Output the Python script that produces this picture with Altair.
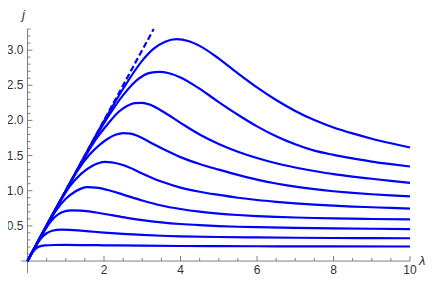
import altair as alt
import pandas as pd

# ---- data ----
lam1 = [0, 1, 2, 2.5, 3.0, 3.3, 3.6, 3.9, 4.2, 4.5, 5.0, 5.5, 6.0, 6.5, 7.0, 7.5, 8.0, 8.5, 9.0, 9.5, 10]
j1 = [0, 1, 1.99, 2.45, 2.85, 3.02, 3.12, 3.155, 3.13, 3.06, 2.88, 2.67, 2.47, 2.29, 2.135, 2.005, 1.9, 1.815, 1.74, 1.675, 1.615]

lam2 = [0, 1, 1.5, 2.0, 2.5, 2.9, 3.2, 3.45, 3.7, 4.0, 4.5, 5.0, 5.5, 6.0, 6.5, 7.0, 7.5, 8.0, 8.5, 9.0, 9.5, 10]
j2 = [0, 1, 1.49, 1.96, 2.36, 2.59, 2.675, 2.69, 2.67, 2.61, 2.45, 2.26, 2.08, 1.915, 1.775, 1.66, 1.57, 1.51, 1.46, 1.415, 1.378, 1.345]

lam3 = [0, 1, 1.5, 1.8, 2.1, 2.4, 2.6, 2.8, 3.0, 3.2, 3.6, 4.0, 4.5, 5.0, 5.5, 6.0, 6.5, 7.0, 7.5, 8.0, 8.5, 9.0, 9.5, 10]
j3 = [0, 1, 1.48, 1.74, 1.95, 2.13, 2.205, 2.245, 2.25, 2.225, 2.105, 1.965, 1.8, 1.665, 1.555, 1.465, 1.39, 1.33, 1.28, 1.235, 1.2, 1.17, 1.14, 1.113]

lam4 = [0, 1, 1.3, 1.6, 1.9, 2.1, 2.3, 2.5, 2.7, 2.9, 3.2, 3.6, 4.0, 4.5, 5.0, 5.5, 6.0, 6.5, 7.0, 7.5, 8.0, 8.5, 9.0, 9.5, 10]
j4 = [0, 1, 1.28, 1.5, 1.66, 1.74, 1.795, 1.82, 1.812, 1.775, 1.69, 1.578, 1.478, 1.38, 1.3, 1.225, 1.158, 1.103, 1.058, 1.022, 0.993, 0.969, 0.95, 0.934, 0.92]

lam5 = [0, 0.8, 1.1, 1.4, 1.7, 1.85, 2.03, 2.2, 2.4, 2.6, 3.0, 3.5, 4.0, 4.5, 5.0, 5.5, 6.0, 6.5, 7.0, 7.5, 8.0, 8.5, 9.0, 9.5, 10]
j5 = [0, 0.8, 1.06, 1.24, 1.355, 1.39, 1.41, 1.403, 1.38, 1.345, 1.245, 1.13, 1.045, 0.985, 0.94, 0.9, 0.868, 0.842, 0.82, 0.802, 0.787, 0.775, 0.765, 0.755, 0.746]

lam6 = [0, 0.5, 0.75, 1.0, 1.25, 1.4, 1.56, 1.8, 2.1, 2.5, 3.0, 3.5, 4.0, 4.5, 5.0, 5.5, 6.0, 6.5, 7.0, 7.5, 8.0, 9.0, 10]
j6 = [0, 0.5, 0.72, 0.885, 0.99, 1.03, 1.05, 1.045, 1.01, 0.945, 0.862, 0.79, 0.74, 0.702, 0.675, 0.655, 0.64, 0.628, 0.619, 0.612, 0.606, 0.598, 0.592]

lam7 = [0, 0.3, 0.5, 0.7, 0.9, 1.13, 1.4, 1.8, 2.2, 2.6, 3.0, 3.5, 4.0, 4.5, 5.0, 5.5, 6.0, 7.0, 8.0, 9.0, 10]
j7 = [0, 0.3, 0.48, 0.62, 0.695, 0.72, 0.716, 0.69, 0.652, 0.615, 0.583, 0.551, 0.527, 0.51, 0.497, 0.488, 0.481, 0.471, 0.464, 0.459, 0.455]

lam8 = [0, 0.2, 0.3, 0.4, 0.5, 0.65, 0.87, 1.2, 1.6, 2.0, 2.5, 3.0, 3.5, 4.0, 5.0, 6.0, 7.0, 8.0, 9.0, 10]
j8 = [0, 0.2, 0.285, 0.35, 0.395, 0.43, 0.448, 0.441, 0.423, 0.405, 0.386, 0.371, 0.36, 0.352, 0.342, 0.336, 0.331, 0.328, 0.326, 0.324]

lam9 = [0, 0.1, 0.2, 0.3, 0.45, 0.7, 1, 1.5, 2, 3, 4, 5, 6.5, 8, 10]
j9 = [0, 0.1, 0.17, 0.205, 0.222, 0.228, 0.229, 0.227, 0.224, 0.218, 0.214, 0.212, 0.21, 0.208, 0.207]

lam_dash = [0, 3.3]
j_dash = [0, 3.3]

x_major = [2, 4, 6, 8, 10]
x_minor = [0.5, 1, 1.5, 2.5, 3, 3.5, 4.5, 5, 5.5, 6.5, 7, 7.5, 8.5, 9, 9.5]
x_labels = ["2", "4", "6", "8", "10"]
y_major = [0.5, 1.0, 1.5, 2.0, 2.5, 3.0]
y_minor = [0.1, 0.2, 0.3, 0.4, 0.6, 0.7, 0.8, 0.9, 1.1, 1.2, 1.3, 1.4, 1.6, 1.7, 1.8, 1.9,
           2.1, 2.2, 2.3, 2.4, 2.6, 2.7, 2.8, 2.9, 3.1, 3.2, 3.3]
y_labels = ["0.5", "1.0", "1.5", "2.0", "2.5", "3.0"]

x_range = [-0.17, 10]
y_range = [-0.17, 3.3]

# ---- build tables ----
lams = [lam1, lam2, lam3, lam4, lam5, lam6, lam7, lam8, lam9]
js = [j1, j2, j3, j4, j5, j6, j7, j8, j9]
rows = []
for k, (ls, jv) in enumerate(zip(lams, js)):
    for a, b in zip(ls, jv):
        rows.append({"curve": k, "lam": a, "j": b})
curves = pd.DataFrame(rows)
dash = pd.DataFrame({"lam": lam_dash, "j": j_dash})

xs = alt.Scale(domain=x_range, nice=False, zero=False)
ys = alt.Scale(domain=y_range, nice=False, zero=False)

BLUE = "#0000ff"
AX = "#7f7f7f"
TXT = "#333333"
FONT = "Liberation Sans"


def X(f):
    return alt.X(f, type="quantitative", scale=xs, axis=None)


def Y(f):
    return alt.Y(f, type="quantitative", scale=ys, axis=None)


lines = alt.Chart(curves).mark_line(color=BLUE, strokeWidth=2.2, interpolate="monotone").encode(
    x=X("lam"), y=Y("j"), detail="curve:N",
)
dashed = alt.Chart(dash).mark_line(color=BLUE, strokeWidth=2.2, strokeDash=[6, 3]).encode(
    x=X("lam"), y=Y("j"),
)

xaxis_df = pd.DataFrame({"x1": [x_range[0]], "x2": [x_range[1]], "y": [0.0]})
yaxis_df = pd.DataFrame({"y1": [y_range[0]], "y2": [y_range[1]], "x": [0.0]})
xaxis = alt.Chart(xaxis_df).mark_rule(color=AX, strokeWidth=1).encode(
    x=X("x1"), x2="x2:Q", y=Y("y")
)
yaxis = alt.Chart(yaxis_df).mark_rule(color=AX, strokeWidth=1).encode(
    y=Y("y1"), y2="y2:Q", x=X("x")
)

xmaj_df = pd.DataFrame({"v": x_major, "t": x_labels, "z": 0.0})
xmin_df = pd.DataFrame({"v": x_minor, "z": 0.0})
ymaj_df = pd.DataFrame({"v": y_major, "t": y_labels, "z": 0.0})
ymin_df = pd.DataFrame({"v": y_minor, "z": 0.0})

xmaj_ticks = alt.Chart(xmaj_df).mark_rule(color=AX, strokeWidth=1, y2Offset=-5).encode(
    x=X("v"), y=Y("z"), y2="z:Q"
)
xmin_ticks = alt.Chart(xmin_df).mark_rule(color=AX, strokeWidth=1, y2Offset=-3).encode(
    x=X("v"), y=Y("z"), y2="z:Q"
)
ymaj_ticks = alt.Chart(ymaj_df).mark_rule(color=AX, strokeWidth=1, x2Offset=5).encode(
    y=Y("v"), x=X("z"), x2="z:Q"
)
ymin_ticks = alt.Chart(ymin_df).mark_rule(color=AX, strokeWidth=1, x2Offset=3).encode(
    y=Y("v"), x=X("z"), x2="z:Q"
)

xlab = alt.Chart(xmaj_df).mark_text(font=FONT, fontSize=12, color=TXT, baseline="alphabetic",
                                    align="center", dy=13).encode(
    x=X("v"), y=Y("z"), text="t:N"
)
ylab = alt.Chart(ymaj_df).mark_text(font=FONT, fontSize=12, color=TXT, baseline="middle",
                                    align="right", dx=-4).encode(
    y=Y("v"), x=X("z"), text="t:N"
)
jlab_df = pd.DataFrame({"x": [0.0], "y": [y_range[1]], "t": ["j"]})
llab_df = pd.DataFrame({"x": [x_range[1]], "y": [0.0], "t": ["λ"]})
jlab = alt.Chart(jlab_df).mark_text(font=FONT, fontSize=13, fontStyle="italic", color=TXT,
                                    baseline="alphabetic", align="center", dx=-4, dy=-10).encode(
    x=X("x"), y=Y("y"), text="t:N"
)
llab = alt.Chart(llab_df).mark_text(font=FONT, fontSize=13, fontStyle="italic", color=TXT,
                                    baseline="middle", align="left", dx=9).encode(
    x=X("x"), y=Y("y"), text="t:N"
)

chart = alt.layer(
    xaxis, yaxis, xmaj_ticks, xmin_ticks, ymaj_ticks, ymin_ticks,
    lines, dashed, xlab, ylab, jlab, llab
).properties(
    width=389, height=244,
    autosize=alt.AutoSizeParams(type="none"),
    padding={"left": 13, "top": 21, "right": 18, "bottom": 5},
).configure_view(stroke=None)

chart.save("out.html", embed_options={"renderer": "svg", "actions": False})
